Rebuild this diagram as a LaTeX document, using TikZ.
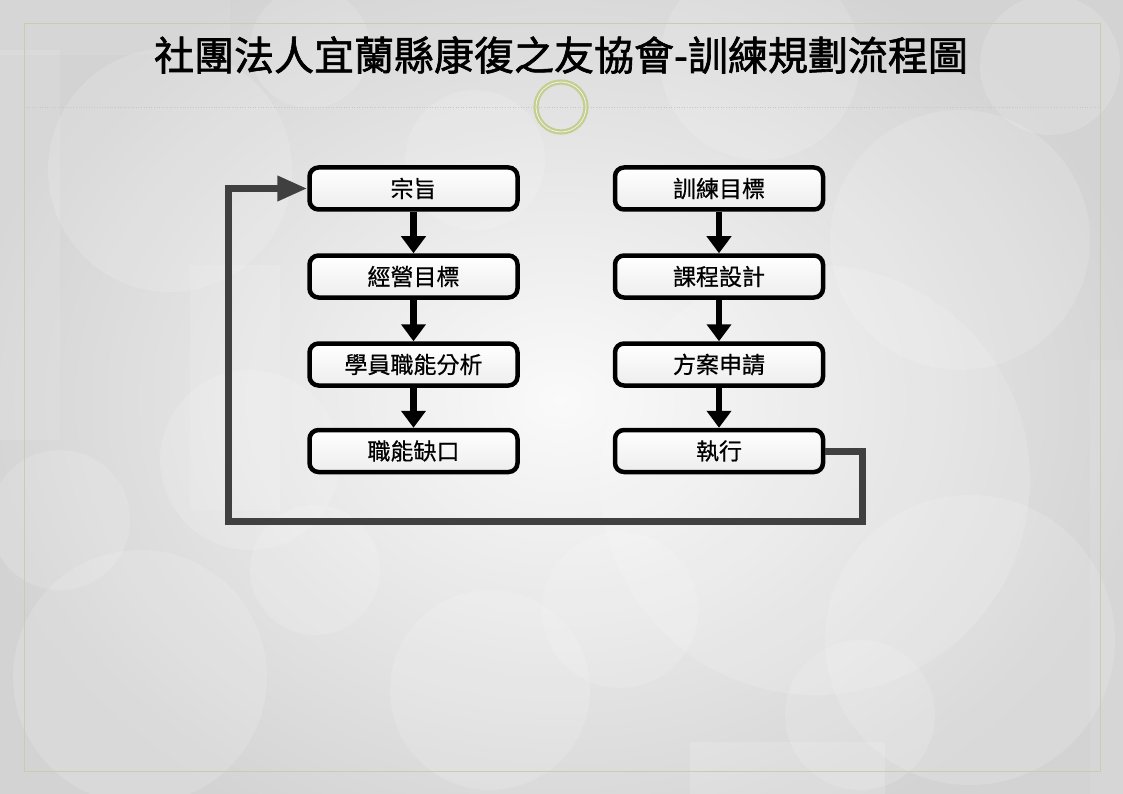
\documentclass[tikz,border=0pt]{standalone}
\usepackage{fontspec}
\setmainfont{Noto Sans CJK TC}
\newfontfamily\titlefont[FakeBold=1.6]{Noto Sans CJK TC}
\newfontfamily\boxfont[FakeBold=0.6]{Noto Sans CJK TC}
\usetikzlibrary{arrows.meta}
\definecolor{bgbase}{HTML}{D3D3D3}
\definecolor{framec}{HTML}{C9CCAE}
\definecolor{ringc}{HTML}{C5CE8E}
\definecolor{loopc}{HTML}{404040}
\tikzset{
  stepbox/.style={draw=black, line width=4.5pt, rounded corners=9pt,
    minimum width=208pt, minimum height=42pt, top color=white, bottom color=gray!14,
    font=\boxfont\fontsize{23}{26}\selectfont, inner sep=0pt},
  flowarrow/.style={line width=6.5pt, draw=black, -{Triangle[length=17pt,width=24pt]}},
  loopline/.style={line width=7pt, draw=loopc, -{Triangle[length=30pt,width=24pt]}},
  bubble/.style={fill=white, opacity=0.14},
}
\begin{document}
\begin{tikzpicture}[x=1pt,y=-1pt]
\useasboundingbox (0,0) rectangle (1123,794);
% background
\fill[bgbase] (0,0) rectangle (1123,794);
\begin{scope}
\clip (0,0) rectangle (1123,794);
\shade[inner color=gray!4, outer color=bgbase] (560,400) ellipse (600 and 480);
\fill[white, opacity=0.10] (0,50) rectangle (60,440);
\fill[white, opacity=0.12] (190,265) rectangle (280,510);
\fill[white, opacity=0.08] (0,0) rectangle (230,55);
\fill[white, opacity=0.15] (690,742) rectangle (885,794);
\fill[white, opacity=0.08] (1090,360) rectangle (1123,794);
\fill[bubble] (170,170) circle (122);
\fill[bubble] (140,677) circle (127);
\fill[bubble] (1050,65) circle (70);
\fill[bubble] (310,48) circle (60);
\fill[bubble] (760,60) circle (100);
\fill[bubble] (960,240) circle (130);
\fill[bubble] (475,160) circle (70);
\fill[bubble] (250,460) circle (90);
\fill[bubble] (315,570) circle (65);
\fill[bubble] (490,690) circle (100);
\fill[bubble] (620,610) circle (78);
\fill[bubble] (815,480) circle (215);
\fill[bubble] (970,640) circle (145);
\fill[bubble] (860,715) circle (75);
\fill[bubble] (60,520) circle (70);
\end{scope}
% frame
\draw[framec, line width=1pt] (24,24) rectangle (1100,771);
\draw[gray!45, line width=0.6pt, dotted] (24,107) -- (1100,107);
% title
\node (title) at (561,55) {\titlefont\fontsize{40}{44}\selectfont 社團法人宜蘭縣康復之友協會-訓練規劃流程圖};
% ring
\node[circle, minimum size=50pt, draw=ringc, line width=2.2pt, double=gray!12, double distance=0.8pt, inner sep=0pt] (ring) at (561,107) {};
% boxes
\node[stepbox] (a1) at (413.5,188.5) {宗旨};
\node[stepbox] (a2) at (413.5,276.5) {經營目標};
\node[stepbox] (a3) at (413.5,364.5) {學員職能分析};
\node[stepbox] (a4) at (413.5,451) {職能缺口};
\node[stepbox] (b1) at (719,188.5) {訓練目標};
\node[stepbox] (b2) at (719,276.5) {課程設計};
\node[stepbox] (b3) at (719,364.5) {方案申請};
\node[stepbox] (b4) at (719,451) {執行};
% arrows
\draw[flowarrow] (a1.south) -- (a2.north);
\draw[flowarrow] (a2.south) -- (a3.north);
\draw[flowarrow] (a3.south) -- (a4.north);
\draw[flowarrow] (b1.south) -- (b2.north);
\draw[flowarrow] (b2.south) -- (b3.north);
\draw[flowarrow] (b3.south) -- (b4.north);
% loop
\coordinate (c1) at (862,521);
\coordinate (c2) at (228,521);
\draw[loopline] (b4.east) -| (c1) -- (c2) |- (a1.west);
\end{tikzpicture}
\end{document}
